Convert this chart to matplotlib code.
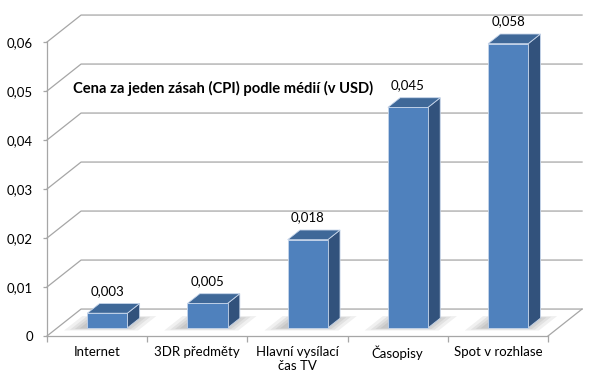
import matplotlib.pyplot as plt
from matplotlib.patches import Polygon

plt.rcParams["font.family"] = ["Lato", "DejaVu Sans"]

# --- data ---
kategorie = ["Internet", "3DR předměty", "Hlavní vysílací\nčas TV", "Časopisy", "Spot v rozhlase"]
hodnoty = [0.003, 0.005, 0.018, 0.045, 0.058]
popisky = ["0,003", "0,005", "0,018", "0,045", "0,058"]
y_ticky = [0, 0.01, 0.02, 0.03, 0.04, 0.05, 0.06]
y_popisky = ["0", "0,01", "0,02", "0,03", "0,04", "0,05", "0,06"]
titulek = "Cena za jeden zásah (CPI) podle médií (v USD)"

# 3D look (oblique projection of the depth axis)
DX, DY = 0.34, 0.0055
D0, D1 = 0.30, 0.66
SIRKA = 0.4
SEDA = "#a6a6a6"
C_PREDNI, C_HORNI, C_BOK = "#4f81bd", "#3f6898", "#32527c"
VEL = 9.5


def proj(x, y, d):
    return (x + d * DX, y + d * DY)


fig = plt.figure(figsize=(5.96, 3.81), dpi=100)
ax = fig.add_axes([47 / 596, 45 / 381, 501 / 596, 294 / 381])
ax.set_xlim(0, len(kategorie))
ax.set_ylim(0, 0.06)

# walls: gridlines on side and back wall, floor
for v in y_ticky:
    pts = [proj(0, v, 0), proj(0, v, 1), proj(len(kategorie), v, 1)]
    ax.plot(*zip(*pts), color=SEDA, lw=0.9, clip_on=False, zorder=1)
pts = [proj(len(kategorie), 0, 0), proj(len(kategorie), 0, 1)]
ax.plot(*zip(*pts), color=SEDA, lw=0.9, clip_on=False, zorder=1)

# bars
for i, (v, txt) in enumerate(zip(hodnoty, popisky)):
    x0 = i + 0.5 - SIRKA / 2
    x1 = x0 + SIRKA
    # soft shadow on the floor
    for e in [0.16, 0.11, 0.07, 0.03]:
        stin = [proj(x0 - e - 0.04, 0, D0 - e * 0.6), proj(x1 + e - 0.02, 0, D0 - e * 0.6),
                proj(x1 + e - 0.02, 0, D1 + e * 0.5), proj(x0 - e - 0.04, 0, D1 + e * 0.5)]
        ax.add_patch(Polygon(stin, closed=True, facecolor="#000000", alpha=0.06,
                             edgecolor="none", clip_on=False, zorder=2))
    predni = [proj(x0, 0, D0), proj(x1, 0, D0), proj(x1, v, D0), proj(x0, v, D0)]
    bok = [proj(x1, 0, D0), proj(x1, 0, D1), proj(x1, v, D1), proj(x1, v, D0)]
    horni = [proj(x0, v, D0), proj(x1, v, D0), proj(x1, v, D1), proj(x0, v, D1)]
    for poly, c in [(bok, C_BOK), (horni, C_HORNI), (predni, C_PREDNI)]:
        ax.add_patch(Polygon(poly, closed=True, facecolor=c, edgecolor="#c6d5ea",
                             lw=0.6, clip_on=False, zorder=3))
    kde = (proj(i + 0.5, v, D0)[0], proj(i + 0.5, v, D1)[1])
    ax.annotate(txt, xy=kde, xytext=(0, 9), textcoords="offset points",
                ha="center", va="center", fontsize=VEL, annotation_clip=False, zorder=4)

# axes
for s in ["top", "right"]:
    ax.spines[s].set_visible(False)
for s in ["left", "bottom"]:
    ax.spines[s].set_color(SEDA)
    ax.spines[s].set_linewidth(0.9)
ax.set_yticks(y_ticky)
ax.set_yticklabels(y_popisky)
ax.set_xticks(range(len(kategorie) + 1))
ax.set_xticklabels([])
ax.set_xticks([i + 0.5 for i in range(len(kategorie))], minor=True)
ax.set_xticklabels(kategorie, minor=True)
ax.tick_params(axis="y", direction="out", length=3, width=0.9, color=SEDA, pad=7, labelsize=VEL)
ax.tick_params(axis="x", which="major", direction="out", length=4, width=0.9, color=SEDA)
ax.tick_params(axis="x", which="minor", length=0, pad=7, labelsize=VEL)
ax.set_facecolor("none")

fig.text(73 / 596, 1 - 88 / 381, titulek, ha="left", va="center",
         fontsize=10.6, fontweight="bold")

fig.savefig("out.png", dpi=100)
